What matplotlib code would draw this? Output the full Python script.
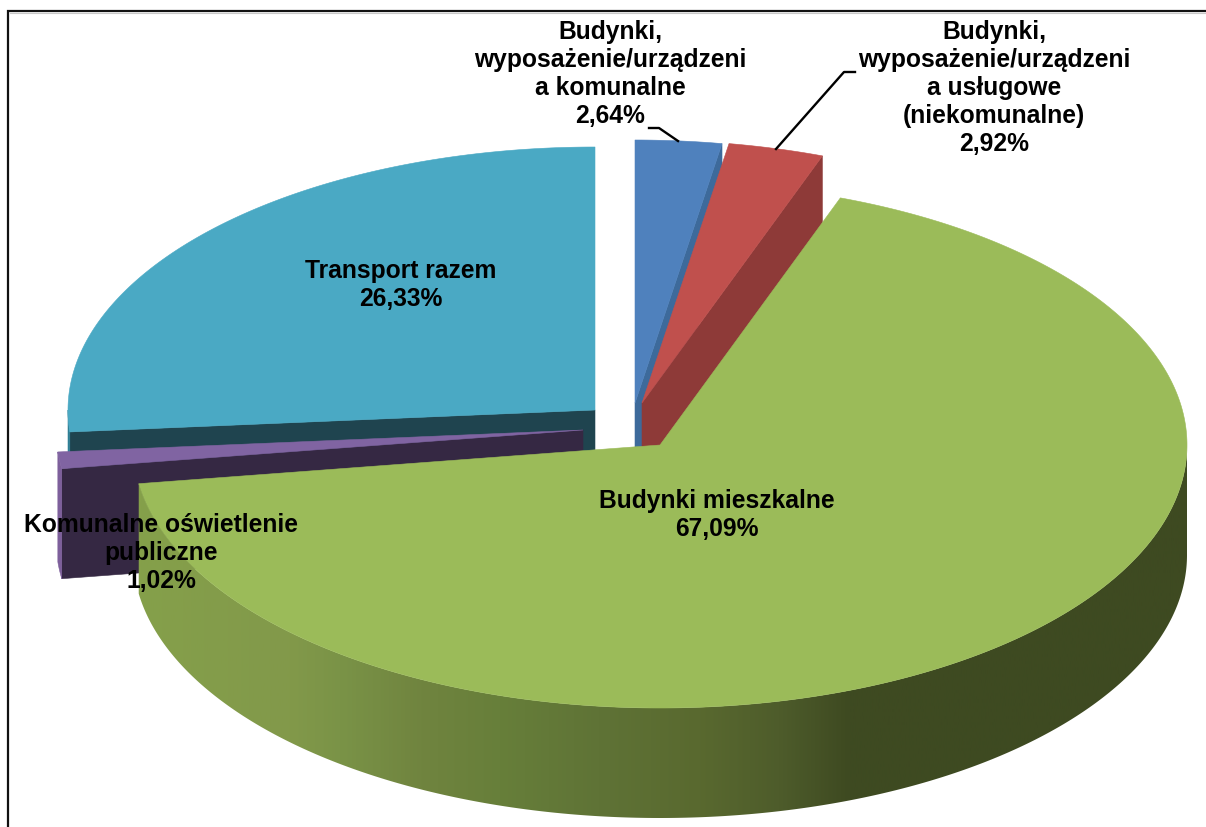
import numpy as np
import matplotlib
matplotlib.use('Agg')
import matplotlib.pyplot as plt
from matplotlib.colors import LinearSegmentedColormap
from matplotlib.patches import Polygon

# shares in percent, clockwise from 12 o'clock
names = ['Budynki,\nwyposażenie/urządzeni\na komunalne',
         'Budynki,\nwyposażenie/urządzeni\na usługowe\n(niekomunalne)',
         'Budynki mieszkalne',
         'Komunalne oświetlenie\npubliczne',
         'Transport razem']
shares = [2.64, 2.92, 67.09, 1.02, 26.33]
share_labels = ['2,64%', '2,92%', '67,09%', '1,02%', '26,33%']

top_colors = ['#4f81bd', '#c0504d', '#9bbb59', '#8064a2', '#4aa9c4']
wall_colors = ['#3d6a9b', '#8e3a38', '#9bbb59', '#352843', '#1f444f']
rim_colors = ['#3d6a9b', '#8e3a38', '#3e4a21', '#7d5f9b', '#2f7f95']

# exploded centre of each slice, in pixels
centers = [(635, 403), (642, 403), (660, 445), (583, 430), (595, 410)]
rx, ry, depth = 527, 263, 110

# side of the big slice is shaded from left to right
green_x = [138, 290, 340, 420, 500, 600, 700, 780, 850, 1190]
green_c = ['#85a04a', '#82994a', '#7a9347', '#70843f', '#677f3a', '#5f7336',
           '#59692f', '#4e5c2b', '#3e4a21', '#3e4a21']

# where the text goes
label_pos = [(610, 74), (994, 88), (717, 515), (161, 553), (401, 285)]

edges = np.cumsum([0] + shares) / sum(shares) * 360


def rim(c, a0, a1, dy=0):
    t = np.radians(np.linspace(a0, a1, max(int(abs(a1 - a0) * 4), 2)))
    return np.column_stack([c[0] + rx * np.sin(t), c[1] - ry * np.cos(t) + dy])


def top_face(c, a0, a1):
    return np.vstack([[c], rim(c, a0, a1)])


def radial_wall(c, a):
    p = rim(c, a, a)[0]
    return [c, p, (p[0], p[1] + depth), (c[0], c[1] + depth)]


def side_wall(c, a0, a1):
    return np.vstack([rim(c, a0, a1), rim(c, a1, a0, depth)])


fig = plt.figure(figsize=(12.06, 8.27), dpi=100)
ax = fig.add_axes([0, 0, 1, 1])
ax.set_xlim(0, 1206)
ax.set_ylim(827, 0)
ax.axis('off')


def poly(xy, color, z):
    ax.add_patch(Polygon(xy, closed=True, fc=color, ec=color, lw=0.4, zorder=z))


# back to front: transport, lighting, blue, red, then the big slice
order = [(4, edges[4]), (3, edges[3]), (0, edges[1]), (1, edges[2])]
z = 1
for i, wall_angle in order:
    c = centers[i]
    a0, a1 = edges[i], edges[i + 1]
    poly(radial_wall(c, wall_angle), wall_colors[i], z)
    # only the front half of the rim can be seen
    if 90 < a0 < 270:
        poly(side_wall(c, a0, min(a1, 270)), rim_colors[i], z)
    poly(top_face(c, a0, a1), top_colors[i], z + 1)
    z += 2

c = centers[2]
a0, a1 = edges[2], edges[3]
side = Polygon(side_wall(c, 90, a1), closed=True, fc='none', ec='none',
               transform=ax.transData)
ax.add_patch(side)
cmap = LinearSegmentedColormap.from_list(
    'side', [((x - green_x[0]) / (green_x[-1] - green_x[0]), col)
             for x, col in zip(green_x, green_c)])
im = ax.imshow(np.linspace(0, 1, 512).reshape(1, -1), cmap=cmap, aspect='auto',
               extent=(green_x[0], green_x[-1], 827, 0), zorder=z)
im.set_clip_path(side)
ax.set_xlim(0, 1206)
ax.set_ylim(827, 0)
poly(top_face(c, a0, a1), top_colors[2], z + 1)

# leader lines
ax.plot([649, 659, 678], [128, 128, 141], color='black', lw=1.7, zorder=20)
ax.plot([855, 844, 776], [72, 72, 149], color='black', lw=1.7, zorder=20)

for name, share, pos in zip(names, share_labels, label_pos):
    ax.text(pos[0], pos[1], name + '\n' + share, ha='center', va='center',
            family='Liberation Sans', weight='bold', fontsize=17.7,
            linespacing=1.22, color='black', zorder=30)

# chart border, only top and left are in the crop
ax.plot([8, 8, 1206], [827, 11, 11], color='#111111', lw=1.6, zorder=40,
        solid_joinstyle='miter')
ax.plot([10, 1206], [13, 13], color='#c8c8c8', lw=0.8, zorder=39)

fig.savefig('out.png', dpi=100)
